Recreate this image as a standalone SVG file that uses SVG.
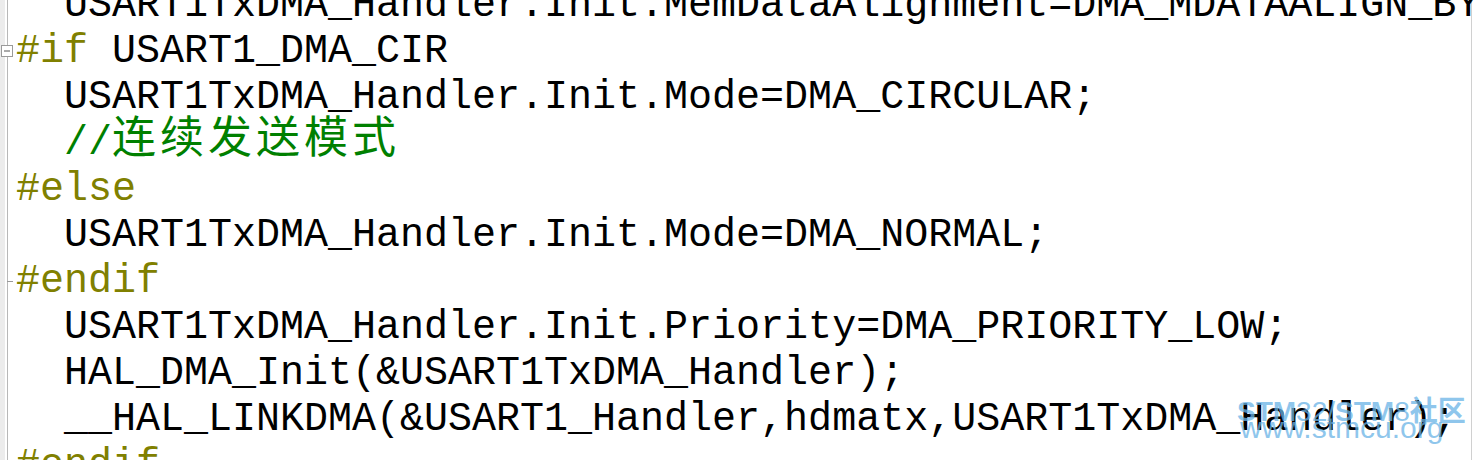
<svg xmlns="http://www.w3.org/2000/svg" width="1474" height="460" viewBox="0 0 1474 460">
<style>
.c{font-family:"Liberation Mono","Courier New",monospace;font-size:40px;fill:#000000;white-space:pre}
.p{fill:#808000}
.g{fill:#008000}
.cjk{font-family:"Noto Sans CJK SC","Liberation Mono",sans-serif;font-size:44px;fill:#008000;letter-spacing:4px}
.wm{font-family:"Liberation Sans",Arial,"Noto Sans CJK SC",sans-serif;fill:#6ab4e6;fill-opacity:0.75}
</style>
<rect x="0" y="0" width="1474" height="460" fill="#ffffff"/>
<g id="gutter">
<rect x="0" y="0" width="5" height="460" fill="#ececec"/>
<line x1="7.5" y1="0" x2="7.5" y2="460" stroke="#b8b8b8" stroke-width="1"/>
<rect x="1.5" y="45.5" width="11" height="11" fill="#ffffff" stroke="#9a9a9a" stroke-width="1"/>
<line x1="4" y1="51" x2="10" y2="51" stroke="#555555" stroke-width="1"/>
<line x1="7" y1="281.5" x2="13" y2="281.5" stroke="#9a9a9a" stroke-width="1"/>
<line x1="1471.5" y1="0" x2="1471.5" y2="460" stroke="#d0d0d0" stroke-width="1"/>
</g>
<g id="code">
<text class="c" x="64" y="16">USART1TxDMA_Handler.Init.MemDataAlignment=DMA_MDATAALIGN_BYTE;</text>
<text class="c" x="16" y="62"><tspan class="p">#if</tspan> USART1_DMA_CIR</text>
<text class="c" x="64" y="108">USART1TxDMA_Handler.Init.Mode=DMA_CIRCULAR;</text>
<text class="c g" x="64" y="154">//</text>
<text class="cjk" x="112" y="153">连续发送模式</text>
<text class="c p" x="16" y="200">#else</text>
<text class="c" x="64" y="246">USART1TxDMA_Handler.Init.Mode=DMA_NORMAL;</text>
<text class="c p" x="16" y="292">#endif</text>
<text class="c" x="64" y="338">USART1TxDMA_Handler.Init.Priority=DMA_PRIORITY_LOW;</text>
<text class="c" x="64" y="384">HAL_DMA_Init(&amp;USART1TxDMA_Handler);</text>
<text class="c" x="64" y="430">__HAL_LINKDMA(&amp;USART1_Handler,hdmatx,USART1TxDMA_Handler);</text>
<text class="c p" x="16" y="476">#endif</text>
</g>
<g id="watermark">
<text class="wm" x="1237" y="421" font-size="28"><tspan font-weight="bold">STM</tspan>32/<tspan font-weight="bold">STM</tspan>8<tspan font-weight="bold">社区</tspan></text>
<text class="wm" x="1240" y="438" font-size="30">www.stmcu.org</text>
</g>
</svg>
